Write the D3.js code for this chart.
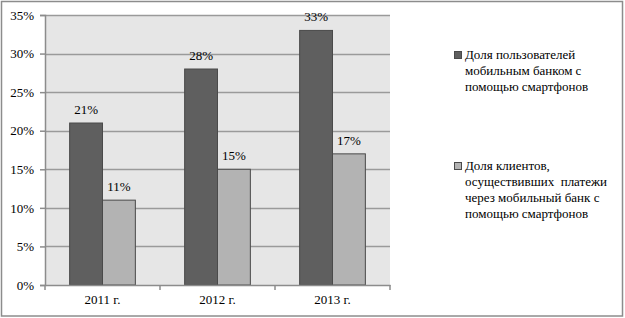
<!DOCTYPE html>
<html>
<head>
<meta charset="utf-8">
<script src="https://cdn.jsdelivr.net/npm/d3@7"></script>
<style>
  body { margin: 0; background: #fff; }
</style>
</head>
<body>
<svg id="chart" width="625" height="318"></svg>
<script>
/* chart data */
const years = ["2011 г.", "2012 г.", "2013 г."];
const usersShare = [21, 28, 33];
const paymentsShare = [11, 15, 17];
const yTicks = [0, 5, 10, 15, 20, 25, 30, 35];
const seriesNames = [
  ["Доля пользователей", "мобильным банком с", "помощью смартфонов"],
  ["Доля клиентов,", "осуществивших  платежи", "через мобильный банк с", "помощью смартфонов"]
];
const seriesColors = ["#5f5f5f", "#b3b3b3"];

const FONT = "Liberation Serif";
const W = 625, H = 318;
const plot = { left: 45, right: 390, top: 15, bottom: 285 };

const svg = d3.select("#chart");

/* outer frame */
svg.append("rect")
  .attr("x", 1.5).attr("y", 1.5)
  .attr("width", W - 4).attr("height", H - 3.5)
  .attr("fill", "#fff")
  .attr("stroke", "#8c8c8c")
  .attr("stroke-width", 1.5);

const x = d3.scaleBand()
  .domain(years)
  .range([plot.left, plot.right]);

// gap width 150%: group = 2 bars, gap 1.5 bar -> bar = band / 3.5
const barW = x.bandwidth() / 3.5;
const groupOffset = barW * 0.75;

const y = d3.scaleLinear().domain([0, 35]).range([plot.bottom, plot.top]);

/* plot background */
svg.append("rect")
  .attr("x", plot.left).attr("y", plot.top)
  .attr("width", plot.right - plot.left)
  .attr("height", plot.bottom - plot.top)
  .attr("fill", "#e6e6e6");

/* gridlines */
svg.append("g")
  .selectAll("line")
  .data(yTicks.filter(d => d > 0))
  .join("line")
  .attr("x1", plot.left).attr("x2", plot.right)
  .attr("y1", d => Math.round(y(d)) + 0.5)
  .attr("y2", d => Math.round(y(d)) + 0.5)
  .attr("stroke", "#9a9a9a")
  .attr("stroke-width", 1.5);

/* bars */
const series = [usersShare, paymentsShare];
series.forEach((vals, si) => {
  svg.append("g")
    .selectAll("rect")
    .data(vals)
    .join("rect")
    .attr("x", (d, i) => x(years[i]) + groupOffset + si * barW)
    .attr("y", d => y(d))
    .attr("width", barW)
    .attr("height", d => y(0) - y(d))
    .attr("fill", seriesColors[si])
    .attr("stroke", "#4a4a4a")
    .attr("stroke-width", 1);

  svg.append("g")
    .selectAll("text")
    .data(vals)
    .join("text")
    .attr("x", (d, i) => x(years[i]) + groupOffset + si * barW + barW / 2)
    .attr("y", d => y(d) - 9)
    .attr("text-anchor", "middle")
    .text(d => d + "%");
});

/* y axis */
const yAxis = svg.append("g")
  .attr("transform", `translate(${plot.left},0)`)
  .call(d3.axisLeft(y).tickValues(yTicks).tickSize(5).tickPadding(6).tickFormat(d => d + "%"));
yAxis.select(".domain").attr("stroke", "#8c8c8c").attr("stroke-width", 1.5);
yAxis.selectAll(".tick line").attr("stroke", "#8c8c8c").attr("stroke-width", 1.5);

/* x axis */
const xAxis = svg.append("g")
  .attr("transform", `translate(0,${plot.bottom})`)
  .call(d3.axisBottom(x).tickSize(0).tickPadding(10));
xAxis.select(".domain").attr("stroke", "#8c8c8c").attr("stroke-width", 1.5);
svg.append("g")
  .selectAll("line")
  .data(d3.range(years.length + 1))
  .join("line")
  .attr("x1", i => plot.left + i * x.step())
  .attr("x2", i => plot.left + i * x.step())
  .attr("y1", plot.bottom)
  .attr("y2", plot.bottom + 5)
  .attr("stroke", "#8c8c8c")
  .attr("stroke-width", 1.5);

/* legend */
const legendTop = [59, 170];
seriesNames.forEach((lines, si) => {
  const g = svg.append("g").attr("transform", `translate(454,${legendTop[si]})`);
  g.append("rect")
    .attr("x", 0.5).attr("y", -7.5)
    .attr("width", 7).attr("height", 7)
    .attr("fill", seriesColors[si])
    .attr("stroke", "#4a4a4a");
  const t = g.append("text").attr("x", 11).attr("y", 0);
  lines.forEach((ln, li) => {
    t.append("tspan").attr("x", 11).attr("dy", li === 0 ? 0 : 16).attr("xml:space", "preserve").text(ln);
  });
});

/* serif font on every label (axis groups set sans-serif) */
svg.selectAll("g").attr("font-family", null);
svg.selectAll("text")
  .attr("font-family", FONT)
  .attr("font-size", 13)
  .attr("fill", "#000");
</script>
</body>
</html>
